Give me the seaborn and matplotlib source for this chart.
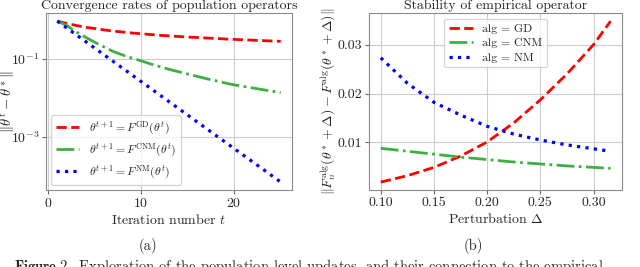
import seaborn as sns
import matplotlib.pyplot as plt

# (a) error per iteration
iters = list(range(1, 26))
gd_err = [0.933, 0.813, 0.724, 0.653, 0.603, 0.556, 0.519, 0.490, 0.462, 0.442,
          0.422, 0.403, 0.389, 0.376, 0.363, 0.355, 0.343, 0.335, 0.324, 0.316,
          0.309, 0.302, 0.295, 0.288, 0.282]
cnm_err = [0.933, 0.724, 0.501, 0.363, 0.269, 0.204, 0.155, 0.126, 0.105, 0.0891,
           0.0741, 0.0631, 0.0537, 0.0468, 0.0407, 0.0355, 0.0309, 0.0275, 0.0240, 0.0214,
           0.0195, 0.0178, 0.0162, 0.0148, 0.0135]
nm_err = [0.933, 0.627, 0.422, 0.2835, 0.1905, 0.128, 0.0861, 0.0579, 0.0389, 0.0261,
          0.0176, 0.0118, 0.00794, 0.00534, 0.00359, 0.00241, 0.00162, 0.00109, 0.000733, 0.000493,
          0.000331, 0.000223, 0.000150, 0.000101, 0.0000676]

# (b) stability vs perturbation size
deltas = [0.100, 0.125, 0.150, 0.175, 0.200, 0.225, 0.250, 0.275, 0.300, 0.316]
gd_stab = [0.0019, 0.0032, 0.0049, 0.0072, 0.0101, 0.0140, 0.0187, 0.0240, 0.0300, 0.0348]
cnm_stab = [0.0088, 0.0082, 0.0076, 0.0070, 0.0065, 0.0060, 0.0056, 0.0052, 0.0049, 0.0047]
nm_stab = [0.0273, 0.0221, 0.0182, 0.0156, 0.0133, 0.0117, 0.0105, 0.0095, 0.0087, 0.0082]

algs = ['GD', 'CNM', 'NM']
colors = {'GD': 'red', 'CNM': '#3cb043', 'NM': 'blue'}
styles = {'GD': '--', 'CNM': '-.', 'NM': ':'}
lws = {'GD': 2.0, 'CNM': 2.0, 'NM': 2.3}

sns.set_style('whitegrid', {'axes.edgecolor': '0.55', 'grid.color': '0.8',
                            'xtick.bottom': True, 'ytick.left': True,
                            'xtick.color': '0.4', 'ytick.color': '0.4'})
plt.rcParams['font.family'] = 'serif'
plt.rcParams['font.serif'] = ['cmr10']
plt.rcParams['mathtext.fontset'] = 'cm'
plt.rcParams['axes.formatter.use_mathtext'] = True
plt.rcParams['xtick.labelcolor'] = '0.15'
plt.rcParams['ytick.labelcolor'] = '0.15'

fig = plt.figure(figsize=(6.4, 2.67), dpi=100)
ax1 = fig.add_axes([0.072, 0.288, 0.384, 0.663])
ax2 = fig.add_axes([0.577, 0.288, 0.395, 0.663])

#Left panel
errs = {'GD': gd_err, 'CNM': cnm_err, 'NM': nm_err}
for a in algs:
    sns.lineplot(x=iters, y=errs[a], ax=ax1, color=colors[a], linestyle=styles[a], lw=lws[a],
                 label=r'$\theta^{t+1} = F^{\mathrm{' + a + r'}}(\theta^t)$')
ax1.set_yscale('log')
ax1.set_yticks([1e-1, 1e-3])
ax1.minorticks_off()
ax1.set_xticks([0, 10, 20])
ax1.set_title('Convergence rates of population operators', fontsize=10, pad=3)
ax1.set_xlabel(r'Iteration number $t$', fontsize=10, labelpad=2)
ax1.set_ylabel(r'$\|\theta^t - \theta^*\|$', fontsize=10.5)
ax1.yaxis.set_label_coords(-0.118, 0.5)
ax1.tick_params(labelsize=10, length=3, pad=2)
ax1.legend(loc='lower left', fontsize=8.5, labelspacing=0.4, borderaxespad=0.4, frameon=True)

#Right panel
stabs = {'GD': gd_stab, 'CNM': cnm_stab, 'NM': nm_stab}
for a in algs:
    sns.lineplot(x=deltas, y=stabs[a], ax=ax2, color=colors[a], linestyle=styles[a], lw=lws[a],
                 label='alg = ' + a)
ax2.set_yticks([0.01, 0.02, 0.03])
ax2.set_xticks([0.10, 0.15, 0.20, 0.25, 0.30])
ax2.xaxis.set_major_formatter(plt.FormatStrFormatter('%.2f'))
ax2.yaxis.set_major_formatter(plt.FormatStrFormatter('%.2f'))
ax2.set_title('Stability of empirical operator', fontsize=10, pad=3)
ax2.set_xlabel(r'Perturbation $\Delta$', fontsize=10, labelpad=2)
ax2.set_ylabel(r'$\|F_n^{\mathrm{alg}}(\theta^* + \Delta) - F^{\mathrm{alg}}(\theta^* + \Delta)\|$',
               fontsize=10)
ax2.yaxis.set_label_coords(-0.125, 0.5)
ax2.tick_params(labelsize=10, length=3, pad=2)
ax2.legend(loc='upper center', fontsize=8.5, labelspacing=0.35, frameon=True)

fig.text(0.231, 0.079, '(a)', ha='center', va='center', fontsize=10.5)
fig.text(0.739, 0.079, '(b)', ha='center', va='center', fontsize=10.5)
fig.text(0.022, 0.035, r'$\mathbf{Figure\ 2.}$ Exploration of the population level updates, and their connection to the empirical',
         ha='left', va='top', fontsize=10.5)

fig.savefig('out.png', dpi=100)
